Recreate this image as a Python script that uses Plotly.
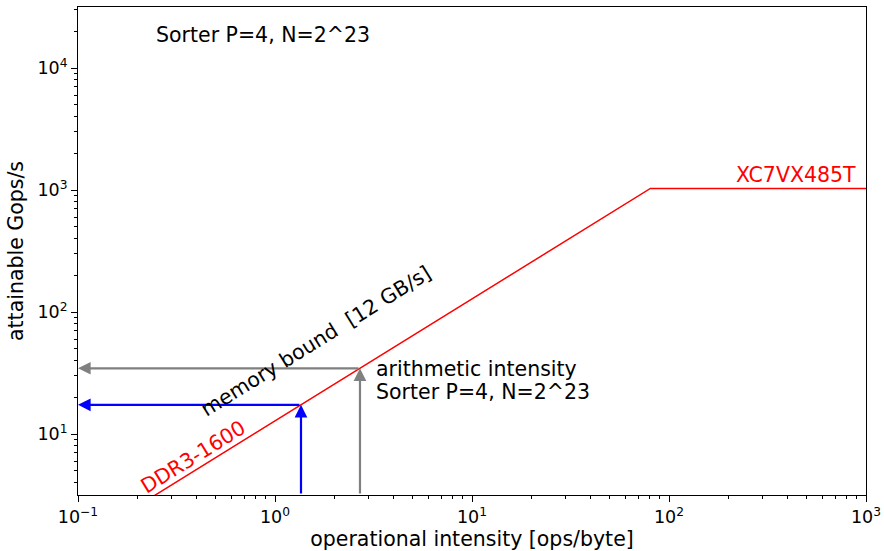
import numpy as np
import plotly.graph_objects as go

# Roofline parameters
platform_name = "XC7VX485T"
memory_name = "DDR3-1600"
bandwidth_gbs = 12.8          # memory bandwidth [GB/s]
peak_gops = 1030.0            # compute roof [Gops/s]
x_limits = [0.1, 1000.0]
y_limits = [10 ** 0.5, 10 ** 4.5]

# Operational intensities of the sorter runs [ops/byte]
kernel_intensity = [1.355, 2.70]
kernel_colors = ["blue", "gray"]

ridge = peak_gops / bandwidth_gbs
roof_x = [x_limits[0], ridge, x_limits[1]]
roof_y = [min(bandwidth_gbs * v, peak_gops) for v in roof_x]

FONT = "DejaVu Sans"
FS = 20.5
TICK_FS = 17.5

W, H = 884, 551
ml, mr, mt, mb = 78, 18, 7, 56
pw, ph = W - ml - mr, H - mt - mb

lx0, lx1 = np.log10(x_limits)
ly0, ly1 = np.log10(y_limits)


def px_to_data(px, py):
    """Pixel position in the page -> (log10 x, log10 y) axis coordinates."""
    lx = lx0 + (px - ml) / pw * (lx1 - lx0)
    ly = ly1 - (py - mt) / ph * (ly1 - ly0)
    return lx, ly


def label(px, py, text, color="black", xanchor="left", angle=0):
    x, y = px_to_data(px, py)
    fig.add_annotation(x=x, y=y, xref="x", yref="y", text=text, showarrow=False,
                       xanchor=xanchor, yanchor="middle", textangle=angle,
                       font=dict(size=FS, color=color))


fig = go.Figure()
fig.add_trace(go.Scatter(x=roof_x, y=roof_y, mode="lines",
                         line=dict(color="red", width=1.5),
                         hoverinfo="skip", showlegend=False))

arrow_style = dict(xref="x", yref="y", axref="x", ayref="y", showarrow=True,
                   arrowhead=2, arrowsize=1.15, arrowwidth=2.2, standoff=0, text="")
for xi, col in zip(kernel_intensity, kernel_colors):
    yi = min(bandwidth_gbs * xi, peak_gops)
    # vertical arrow up to the roof
    fig.add_annotation(x=np.log10(xi), y=np.log10(yi), ax=np.log10(xi), ay=ly0,
                       arrowcolor=col, **arrow_style)
    # horizontal arrow back to the y axis
    fig.add_annotation(x=lx0, y=np.log10(yi), ax=np.log10(xi), ay=np.log10(yi),
                       arrowcolor=col, **arrow_style)

# text labels
label(154, 35, "Sorter P=4, N=2^23")
label(858, 175, platform_name, color="red", xanchor="right")
label(374, 369, "arithmetic intensity")
label(374, 392, "Sorter P=4, N=2^23")

ang = -np.degrees(np.arctan((ph / (ly1 - ly0)) / (pw / (lx1 - lx0))))
label(316, 341, "memory bound  [12 GB/s]", xanchor="center", angle=ang)
label(193, 457, memory_name, color="red", xanchor="center", angle=ang)

major = [10.0 ** k for k in range(-1, 4)]
major_txt = ["10<sup>\u22121</sup>", "10<sup>0</sup>", "10<sup>1</sup>", "10<sup>2</sup>", "10<sup>3</sup>"]
ymajor = [10.0 ** k for k in range(1, 5)]
ymajor_txt = ["10<sup>1</sup>", "10<sup>2</sup>", "10<sup>3</sup>", "10<sup>4</sup>"]
xminor = [m * 10.0 ** k for k in range(-1, 3) for m in range(2, 10)]
yminor = [m * 10.0 ** k for k in range(0, 5) for m in range(2, 10)]

axis_common = dict(type="log", showgrid=False, zeroline=False, showline=True,
                   linecolor="black", linewidth=1, mirror=True, ticks="outside",
                   ticklen=6, tickwidth=1, tickcolor="black",
                   tickfont=dict(size=TICK_FS, color="black"))

fig.update_xaxes(range=[lx0, lx1], tickvals=major, ticktext=major_txt,
                 minor=dict(tickvals=xminor, ticks="outside", ticklen=3, tickcolor="black"),
                 title=dict(text="operational intensity [ops/byte]", standoff=4,
                            font=dict(size=FS, color="black")),
                 **axis_common)
fig.update_yaxes(range=[ly0, ly1], tickvals=ymajor, ticktext=ymajor_txt,
                 minor=dict(tickvals=yminor, ticks="outside", ticklen=3, tickcolor="black"),
                 title=dict(text="attainable Gops/s", standoff=8,
                            font=dict(size=FS, color="black")),
                 **axis_common)

fig.update_layout(width=W, height=H, margin=dict(l=ml, r=mr, t=mt, b=mb, autoexpand=False),
                  plot_bgcolor="white", paper_bgcolor="white",
                  font=dict(family=FONT, size=FS, color="black"), showlegend=False)

fig.write_html("out.html")
